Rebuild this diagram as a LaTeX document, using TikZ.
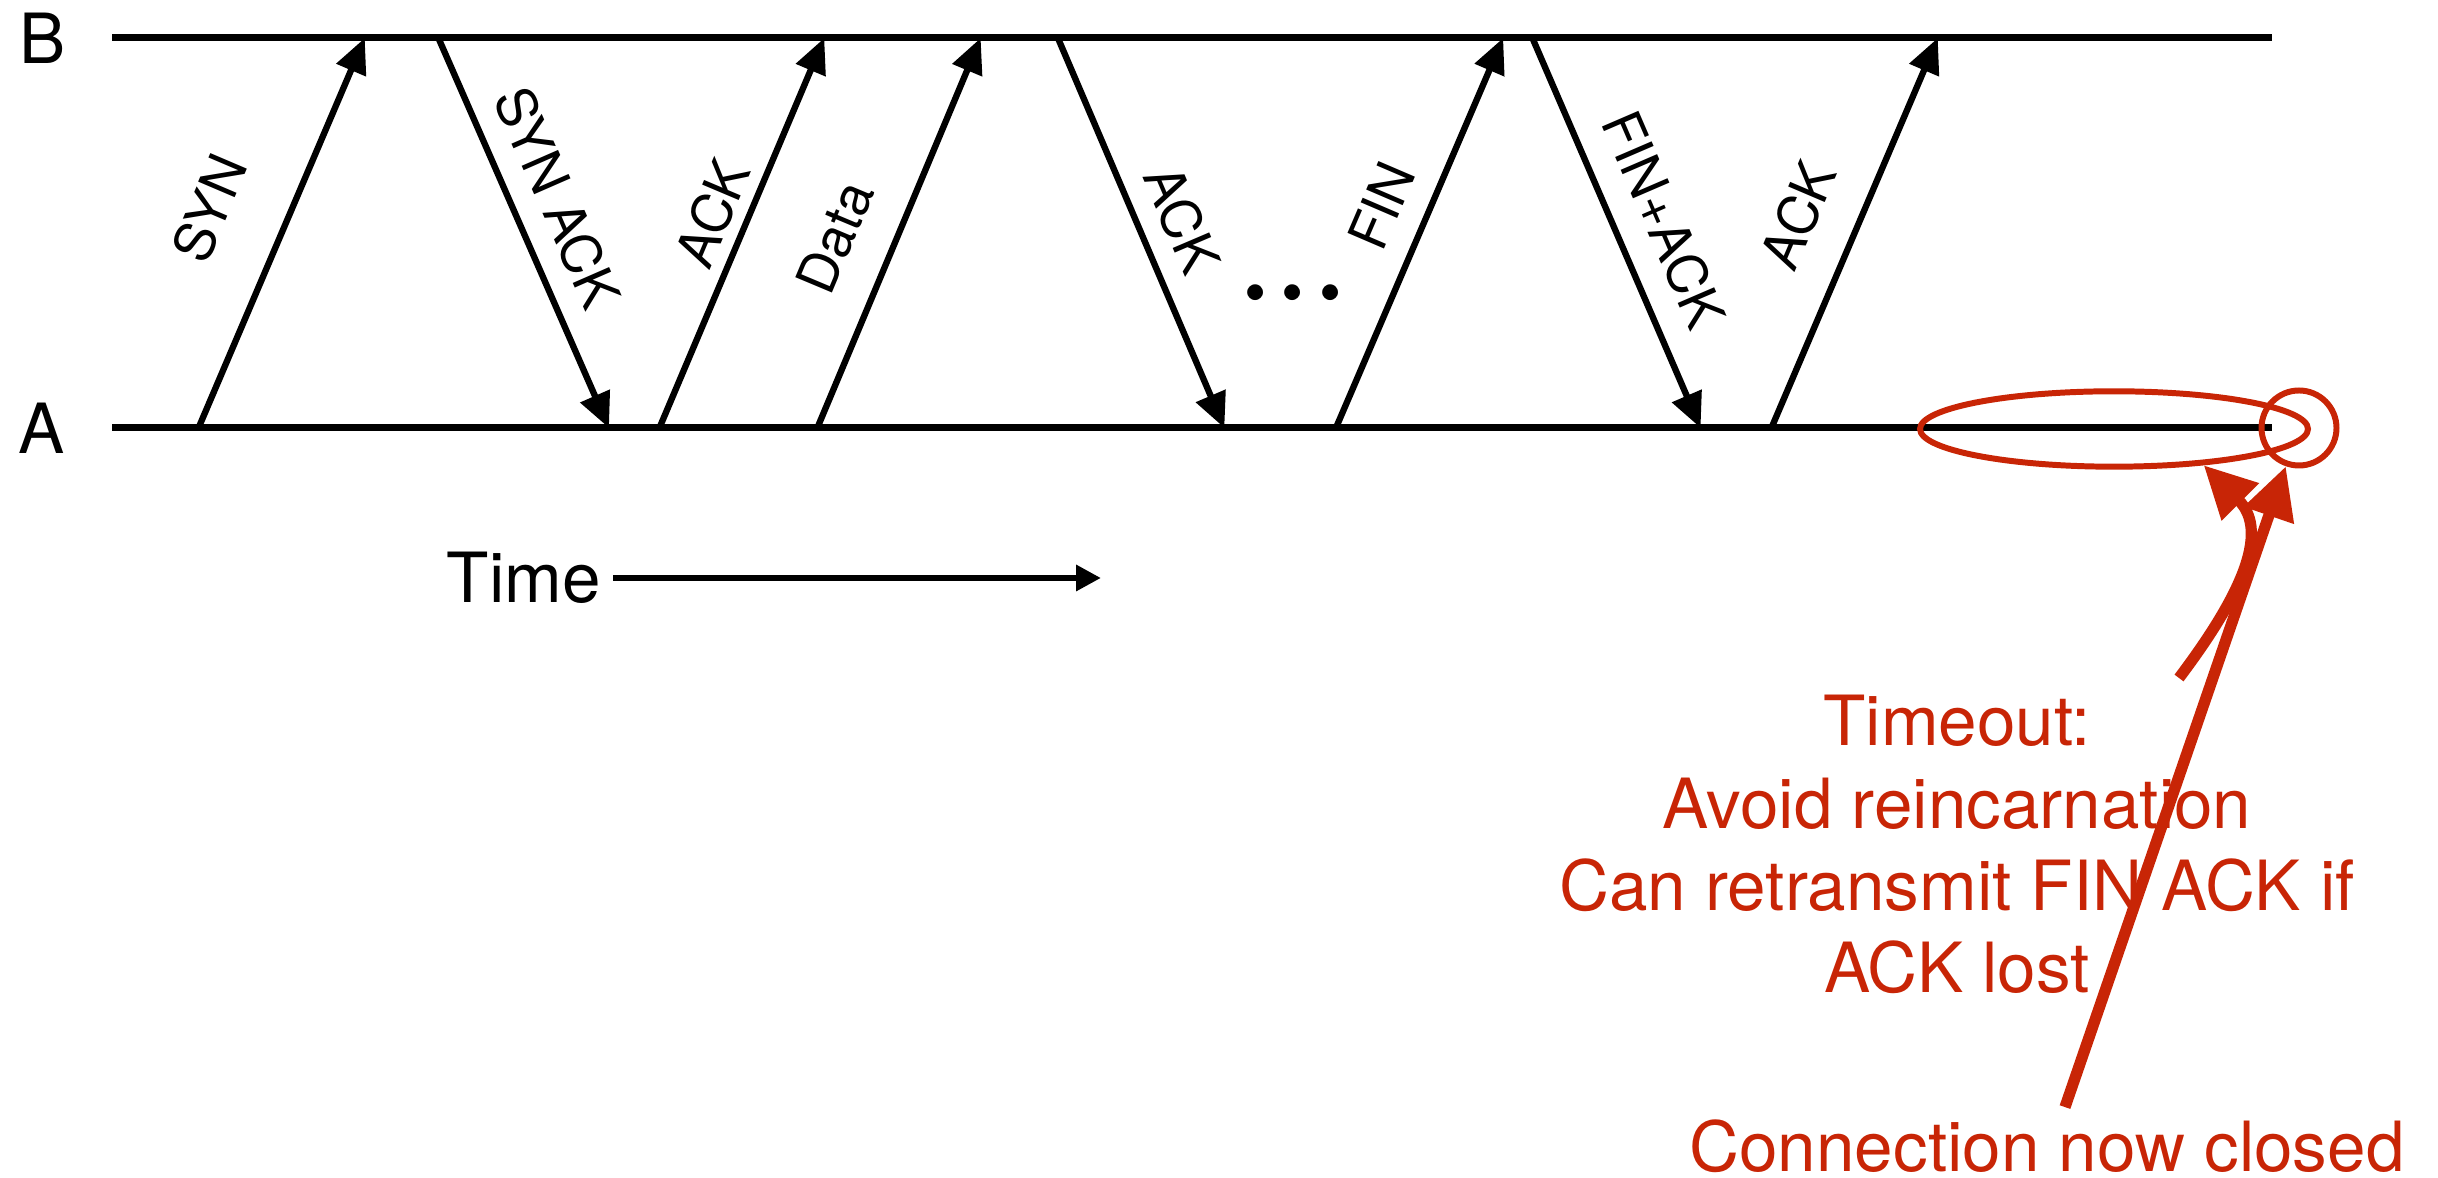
\documentclass[tikz,border=0pt]{standalone}
\usepackage{fontspec}
\setmainfont{TeX Gyre Heros}
\usetikzlibrary{arrows.meta, positioning, shapes.geometric}
\definecolor{notered}{RGB}{200,37,6}

\begin{document}
\begin{tikzpicture}[
        big/.style={font=\fontsize{19.7}{23.4}\selectfont},
        small/.style={font=\fontsize{15.5}{18}\selectfont},
        tline/.style={draw, line width=2pt},
        msg/.style={draw, line width=1.8pt, -{Triangle[length=0.35cm, width=0.31cm]}},
        lbl/.style={small, sloped, above, inner xsep=0pt},
        note/.style={draw=notered, line width=1.7pt},
        pointer/.style={draw=notered, line width=3.2pt, -{Triangle[length=0.52cm, width=0.5cm]}}
    ]
        \useasboundingbox (0,0) rectangle (24.38,11.78);

        % Hosts
        \coordinate (b_start) at (1.12,11.40);
        \coordinate (b_end) at (22.72,11.40);
        \coordinate (a_start) at (1.12,7.50);
        \coordinate (a_end) at (22.72,7.50);
        \node [big, left=0.34cm of b_start] (host_b) {B};
        \node [big, left=0.35cm of a_start] (host_a) {A};
        \path [tline] (b_start) -- (b_end);
        \path [tline] (a_start) -- (a_end);

        % Send / receive points
        \coordinate (a_syn) at (1.985,7.50);
        \coordinate (b_syn) at (3.648,11.40);
        \coordinate (b_synack) at (4.384,11.40);
        \coordinate (a_synack) at (6.090,7.50);
        \coordinate (a_ack) at (6.594,7.50);
        \coordinate (b_ack) at (8.243,11.40);
        \coordinate (a_data) at (8.173,7.50);
        \coordinate (b_data) at (9.807,11.40);
        \coordinate (b_dack) at (10.579,11.40);
        \coordinate (a_dack) at (12.244,7.50);
        \coordinate (a_fin) at (13.359,7.50);
        \coordinate (b_fin) at (15.032,11.40);
        \coordinate (b_finack) at (15.324,11.40);
        \coordinate (a_finack) at (17.006,7.50);
        \coordinate (a_lastack) at (17.714,7.50);
        \coordinate (b_lastack) at (19.378,11.40);

        % Handshake
        \path [msg] (a_syn) -- node [lbl, pos=.487, inner ysep=0.52cm] {SYN} (b_syn);
        \path [msg] (b_synack) -- node [lbl, pos=.455, inner ysep=0.21cm] {SYN ACK} (a_synack);
        \path [msg] (a_ack) -- node [lbl, pos=.515, inner ysep=0.11cm] {ACK} (b_ack);
        % Transfer
        \path [msg] (a_data) -- node [lbl, pos=.432, inner ysep=0.34cm] {Data} (b_data);
        \path [msg] (b_dack) -- node [lbl, pos=.508, inner ysep=0.19cm] {ACK} (a_dack);
        \node [font=\fontsize{18}{18}\selectfont, anchor=base] (more_msgs) at (12.93,8.63) {\textbullet\kern0.15cm\textbullet\kern0.15cm\textbullet};
        % Teardown
        \path [msg] (a_fin) -- node [lbl, pos=.524, inner ysep=0.23cm] {FIN} (b_fin);
        \path [msg] (b_finack) -- node [lbl, pos=.515, inner ysep=0.25cm] {FIN+ACK} (a_finack);
        \path [msg] (a_lastack) -- node [lbl, pos=.486, inner ysep=0.35cm] {ACK} (b_lastack);

        % Time axis
        \node [big] (time_lbl) at (5.237,6.00) {Time};
        \coordinate (time_tip) at (11.01,6.00);
        \path [draw, line width=1.8pt, -{Triangle[length=0.25cm, width=0.25cm]}] (time_lbl) -- (time_tip);

        % Notes
        \node [note, ellipse, minimum width=3.88cm, minimum height=0.754cm] (wait_oval) at (21.14,7.49) {};
        \node [note, circle, minimum size=0.75cm] (close_pt) at (22.99,7.50) {};
        \node [big, text=notered, align=center, anchor=north] (timeout_note) at (19.57,4.95) {Timeout:\\Avoid reincarnation\\Can retransmit FIN ACK if\\ACK lost};
        \node [big, text=notered] (closed_note) at (20.47,0.32) {Connection now closed};
        \coordinate (timeout_tail) at (21.79,5.00);
        \path [pointer] (timeout_tail) to [out=53, in=-45, looseness=1.15] (wait_oval.-22);
        \path [pointer] ([xshift=0.18cm]closed_note.north) -- (close_pt);

    \end{tikzpicture}
\end{document}
